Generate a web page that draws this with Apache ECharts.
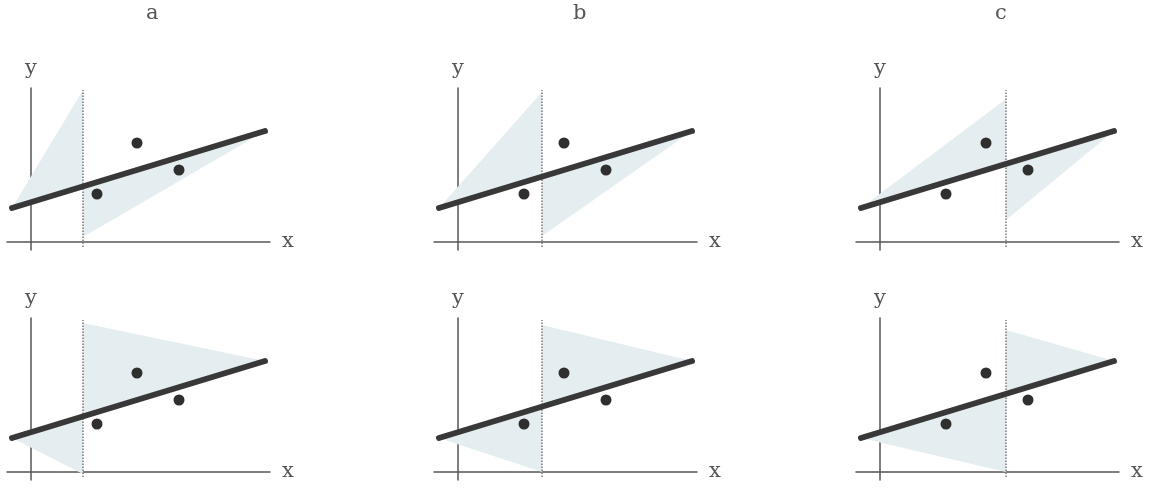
<!DOCTYPE html>
<html>
<head>
<meta charset="utf-8">
<script src="https://cdn.jsdelivr.net/npm/echarts@6/dist/echarts.min.js"></script>
<style>
html,body{margin:0;padding:0;background:#fff}
#main{width:1153px;height:490px}
</style>
</head>
<body>
<div id="main"></div>
<script>
var panelNames = ['a', 'b', 'c'];
var pointX = [3.3, 5.3, 7.4];
var pointY = [2.4, 4.95, 3.6];
var fitX = [-0.95, 11.7];
var fitY = [1.7, 5.55];
var splitX = [2.6, 4.2, 6.3];
// top row: wedge above the line on the left, below it on the right
var topUpper = [7.6, 7.5, 7.15];
var topLower = [0.25, 0.3, 1.1];
// bottom row: wedge below the line on the left, above it on the right
var botLower = [-0.1, 0, 0];
var botUpper = [7.45, 7.35, 7.1];
var dotY = [-0.25, 7.6];

// courier-ish slab serif look
var font = "'DejaVu Serif', serif";
var gridLeft = [7, 434, 856];
var gridTop = [88, 318];

function fitAt(x){
	return fitY[0] + (x - fitX[0]) * (fitY[1] - fitY[0]) / (fitX[1] - fitX[0]);
}

var grid = [], xAxis = [], yAxis = [], series = [], title = [];

panelNames.forEach(function(name, c){
	title.push({
		text: name,
		left: gridLeft[c] + 139,
		top: 3,
		padding: 0,
		textStyle: {fontFamily: font, fontSize: 21, fontWeight: 'normal', color: '#555'}
	});
});

for(var r = 0; r < 2; r++){
	for(var c = 0; c < 3; c++){
		var i = r * 3 + c;
		var s = splitX[c];
		var mid = fitAt(s);
		var polys;
		if(r == 0){
			polys = [
				[[fitX[0], fitY[0]], [s, topUpper[c]], [s, mid]],
				[[s, mid], [s, topLower[c]], [fitX[1], fitY[1]]]
			];
		}else{
			polys = [
				[[fitX[0], fitY[0]], [s, botLower[c]], [s, mid]],
				[[s, mid], [s, botUpper[c]], [fitX[1], fitY[1]]]
			];
		}
		grid.push({left: gridLeft[c], top: gridTop[r], width: 263, height: 162});
		xAxis.push({
			type: 'value', gridIndex: i, min: -1.2, max: 11.95,
			axisLine: {onZero: true, lineStyle: {color: '#555', width: 1.5}},
			axisTick: {show: false}, axisLabel: {show: false}, splitLine: {show: false},
			name: 'x', nameLocation: 'end', nameGap: 12,
			nameTextStyle: {fontFamily: font, fontSize: 21, color: '#555', verticalAlign: 'middle'}
		});
		yAxis.push({
			type: 'value', gridIndex: i, min: -0.4, max: 7.7,
			axisLine: {onZero: true, lineStyle: {color: '#555', width: 1.5}},
			axisTick: {show: false}, axisLabel: {show: false}, splitLine: {show: false},
			name: 'y', nameLocation: 'end', nameGap: 9,
			nameTextStyle: {fontFamily: font, fontSize: 21, color: '#555'}
		});
		(function(polys){
			series.push({
				type: 'custom', xAxisIndex: i, yAxisIndex: i, silent: true, z: 1,
				data: [[0], [1]],
				renderItem: function(params, api){
					var p = polys[api.value(0)];
					return {
						type: 'polygon',
						shape: {points: p.map(function(v){ return api.coord(v); })},
						style: {fill: '#e4edf0'}
					};
				}
			});
		})(polys);
		series.push({
			type: 'line', xAxisIndex: i, yAxisIndex: i, symbol: 'none', silent: true, z: 2,
			data: [[s, dotY[0]], [s, dotY[1]]],
			lineStyle: {type: 'dotted', color: '#777', width: 1.5}
		});
		series.push({
			type: 'line', xAxisIndex: i, yAxisIndex: i, symbol: 'none', silent: true, z: 3,
			data: [[fitX[0], fitY[0]], [fitX[1], fitY[1]]],
			lineStyle: {color: '#383838', width: 6, cap: 'round'}
		});
		series.push({
			type: 'scatter', xAxisIndex: i, yAxisIndex: i, silent: true, z: 4,
			symbolSize: 11,
			itemStyle: {color: '#2f2f2f', opacity: 1},
			data: pointX.map(function(x, k){ return [x, pointY[k]]; })
		});
	}
}

var myChart = echarts.init(document.getElementById('main'));
myChart.setOption({
	animation: false,
	title: title,
	grid: grid,
	xAxis: xAxis,
	yAxis: yAxis,
	series: series
});
</script>
</body>
</html>
